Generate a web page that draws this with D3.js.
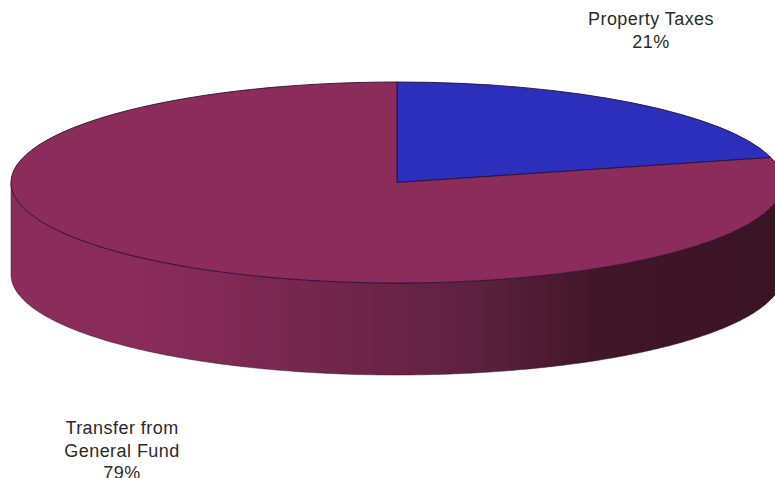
<!DOCTYPE html>
<html><head><meta charset="utf-8">
<script src="https://cdn.jsdelivr.net/npm/d3@7"></script>
<style>html,body{margin:0;padding:0;background:#fff;overflow:hidden}svg{display:block}
text{font-family:"Liberation Sans",Arial,sans-serif;font-size:18px;letter-spacing:0.45px;fill:#2a2a2a;text-anchor:middle}</style>
</head><body><svg id="c" width="775" height="478"></svg>
<script>
const categories = ["Property Taxes", "Transfer from General Fund"];
const values = [21, 79];
const colors = ["#2b2fbb", "#8b2c5a"];
const labelLines = [["Property Taxes", "21%"], ["Transfer from", "General Fund", "79%"]];
const labelPos = [[651, 25], [122, 434]];
const shadeStops = [[0,"#8b2c5a"],[0.16,"#8a2c59"],[0.32,"#7b2851"],[0.5,"#692446"],[0.63,"#58203b"],[0.76,"#411627"],[1,"#3a1424"]];

const cx = 397, cy = 182.5, rx = 386, ry = 100.5, depth = 92;
const svg = d3.select("#c");

const defs = svg.append("defs");
const grad = defs.append("linearGradient").attr("id","side").attr("gradientUnits","userSpaceOnUse")
  .attr("x1",cx-rx).attr("x2",cx+rx).attr("y1",0).attr("y2",0);
shadeStops.forEach(s => grad.append("stop").attr("offset",s[0]).attr("stop-color",s[1]));

const arcs = d3.pie().sort(null).value(d => d)(values);
const px = a => cx + rx * Math.sin(a);
const py = a => cy - ry * Math.cos(a);

// front wall: the visible half of the rim, from the right extreme to the left extreme
const angles = d3.range(Math.PI/2, 3*Math.PI/2 + 0.001, 0.01);
const rimTop = angles.map(a => [px(a), py(a)]);
const rimBottom = angles.slice().reverse().map(a => [px(a), py(a) + depth]);
svg.append("path")
  .attr("d", d3.line()(rimTop.concat(rimBottom)) + "Z")
  .attr("fill","url(#side)").attr("stroke","#3a1424").attr("stroke-width",0.5);

// top face
const arc = d3.arc().innerRadius(0).outerRadius(rx);
svg.append("g").attr("transform",`translate(${cx},${cy}) scale(1,${ry/rx})`)
  .selectAll("path").data(arcs).join("path")
  .attr("d",arc).attr("fill",(d,i)=>colors[i])
  .attr("stroke","#2a0f38").attr("stroke-width",0.9)
  .attr("vector-effect","non-scaling-stroke");

// labels
labelLines.forEach((lines,i) => {
  const t = svg.append("text").attr("x",labelPos[i][0]).attr("y",labelPos[i][1]);
  lines.forEach((l,j) => t.append("tspan").attr("x",labelPos[i][0]).attr("dy",j?22.5:0).text(l));
});
</script></body></html>
